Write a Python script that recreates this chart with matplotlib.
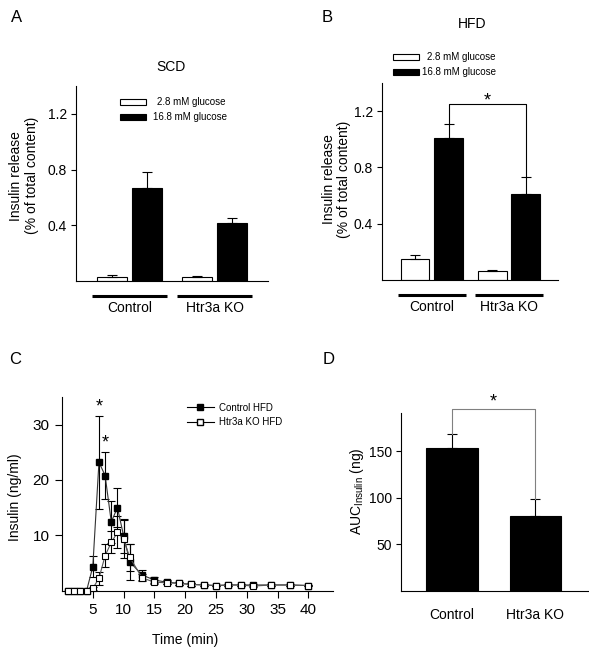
import matplotlib
matplotlib.use('Agg')
import matplotlib.pyplot as plt
from matplotlib.patches import Rectangle
from matplotlib.lines import Line2D
import matplotlib.transforms as mtransforms
import numpy as np

plt.rcParams['font.family'] = ['Liberation Sans', 'DejaVu Sans']
plt.rcParams['mathtext.fontset'] = 'custom'
plt.rcParams['mathtext.rm'] = 'Liberation Sans'
plt.rcParams['axes.linewidth'] = 0.8

# data
groups = ['Control', 'Htr3a KO']
scd_low = [0.03, 0.03]
scd_low_err = [0.015, 0.008]
scd_high = [0.67, 0.42]
scd_high_err = [0.11, 0.03]
hfd_low = [0.15, 0.065]
hfd_low_err = [0.03, 0.006]
hfd_high = [1.01, 0.61]
hfd_high_err = [0.10, 0.12]

time = [1, 2, 3, 4, 5, 6, 7, 8, 9, 10, 11, 13, 15, 17, 19, 21, 23, 25, 27, 29, 31, 34, 37, 40]
ctrl = [0, 0, 0, 0, 4.3, 23.2, 20.8, 12.4, 15.0, 9.9, 5.2, 2.8, 1.9, 1.5, 1.3, 1.1, 1.0, 0.9, 1.0, 1.0, 1.0, 1.0, 1.0, 0.9]
ctrl_err = [0, 0, 0, 0, 1.9, 8.4, 4.3, 3.8, 3.6, 3.1, 3.3, 0.9, 0.5, 0.4, 0.3, 0.2, 0.2, 0.1, 0.2, 0.2, 0.2, 0.2, 0.2, 0.1]
ko = [0, 0, 0, 0, 0.4, 2.2, 6.3, 8.7, 10.5, 9.3, 6.0, 2.3, 1.5, 1.4, 1.3, 1.1, 1.0, 0.9, 1.0, 1.0, 0.8, 1.0, 1.0, 0.9]
ko_err = [0, 0, 0, 0, 0.3, 1.2, 2.1, 2.0, 2.9, 3.5, 2.4, 0.6, 0.4, 0.3, 0.3, 0.2, 0.2, 0.1, 0.2, 0.2, 0.2, 0.2, 0.2, 0.1]

auc = [153, 80]
auc_err = [16, 19]

W, H = 589, 648
fig = plt.figure(figsize=(W / 100, H / 100), dpi=100)


def fx(x):
    return x / W


def fy(y):
    return 1 - y / H


def axes_px(l, t, r, b):
    return fig.add_axes([fx(l), fy(b), (r - l) / W, (b - t) / H])


def style(ax, size=10):
    ax.spines['top'].set_visible(False)
    ax.spines['right'].set_visible(False)
    ax.tick_params(direction='out', length=3.5, width=0.8, labelsize=size, pad=3)


def bar_panel(ax, low, low_err, high, high_err, width, off, xl):
    x = np.arange(len(groups))
    ax.bar(x - off, low, width, color='white', edgecolor='black', linewidth=0.8)
    ax.errorbar(x - off, low, yerr=[np.zeros(2), low_err], fmt='none', ecolor='black',
                elinewidth=0.8, capsize=3.5, capthick=0.8)
    ax.bar(x + off, high, width, color='black', edgecolor='black', linewidth=0.8)
    ax.errorbar(x + off, high, yerr=[np.zeros(2), high_err], fmt='none', ecolor='black',
                elinewidth=0.8, capsize=3.5, capthick=0.8)
    ax.set_xlim(xl)
    ax.set_ylim(0, 1.4)
    ax.set_yticks([0.4, 0.8, 1.2])
    ax.set_xticks([])
    style(ax)
    tr = mtransforms.blended_transform_factory(ax.transData, ax.transAxes)
    for i, g in enumerate(groups):
        ax.plot([i - 0.44, i + 0.44], [-0.077, -0.077], color='black', lw=2.2,
                transform=tr, clip_on=False, solid_capstyle='butt')
        ax.text(i, -0.137, g, transform=tr, ha='center', va='center', fontsize=10)
    ax.set_ylabel('Insulin release\n(% of total content)', fontsize=10, linespacing=1.15)


def legend_px(x_rect, y1, y2, x_t1, x_t2):
    fig.add_artist(Rectangle((fx(x_rect), fy(y1 + 3)), 26 / W, 6 / H, transform=fig.transFigure,
                             facecolor='white', edgecolor='black', linewidth=0.8))
    fig.add_artist(Rectangle((fx(x_rect), fy(y2 + 3)), 26 / W, 6 / H, transform=fig.transFigure,
                             facecolor='black', edgecolor='black', linewidth=0.8))
    fig.text(fx(x_t1), fy(y1), '2.8 mM glucose', fontsize=7, va='center')
    fig.text(fx(x_t2), fy(y2), '16.8 mM glucose', fontsize=7, va='center')


# A
axA = axes_px(76, 86, 268, 281)
bar_panel(axA, scd_low, scd_low_err, scd_high, scd_high_err, 0.353, 0.206, (-0.632, 1.627))
axA.yaxis.set_label_coords(-0.195, 0.54)
fig.text(fx(171), fy(67), 'SCD', fontsize=10, ha='center', va='center')
legend_px(120, 102, 117, 157, 153)

# B
axB = axes_px(382, 83, 558, 280)
bar_panel(axB, hfd_low, hfd_low_err, hfd_high, hfd_high_err, 0.37, 0.217, (-0.644, 1.634))
axB.yaxis.set_label_coords(-0.175, 0.51)
fig.text(fx(472), fy(24), 'HFD', fontsize=10, ha='center', va='center')
legend_px(393, 57, 72, 427, 422)
xs = [0.217, 1.217]
axB.plot([xs[0], xs[0], xs[1], xs[1]],
         [hfd_high[0] + hfd_high_err[0], 1.25, 1.25, hfd_high[1] + hfd_high_err[1]],
         color='black', lw=0.8, clip_on=False)
axB.text(0.717, 1.27, '*', ha='center', va='center', fontsize=13)

# C
axC = axes_px(62, 397, 333, 590.5)
axC.errorbar(time, ctrl, yerr=ctrl_err, fmt='none', ecolor='black', elinewidth=0.8,
             capsize=3, capthick=0.8, zorder=2)
axC.errorbar(time, ko, yerr=ko_err, fmt='none', ecolor='black', elinewidth=0.8,
             capsize=3, capthick=0.8, zorder=2)
axC.plot(time, ctrl, color='#333333', lw=0.8, marker='s', ms=4.5, mfc='black', mec='black',
         zorder=3, clip_on=False)
axC.plot(time, ko, color='#555555', lw=0.8, marker='s', ms=4.5, mfc='white', mec='black',
         mew=0.8, zorder=4, clip_on=False)
axC.set_xlim(0, 44)
axC.set_ylim(0, 35)
axC.set_xticks([5, 10, 15, 20, 25, 30, 35, 40])
axC.set_yticks([10, 20, 30])
style(axC, 11)
axC.tick_params(axis='x', length=5, pad=4)
axC.tick_params(axis='y', length=5, pad=4)
axC.set_xlabel('Time (min)', fontsize=10)
axC.xaxis.set_label_coords(0.455, -0.22)
axC.set_ylabel('Insulin (ng/ml)', fontsize=10)
axC.yaxis.set_label_coords(-0.147, 0.48)
axC.text(6, 33.2, '*', ha='center', va='center', fontsize=13)
axC.text(7, 26.6, '*', ha='center', va='center', fontsize=13)
leg_h = [Line2D([0], [0], color='black', lw=0.8, marker='s', ms=4, mfc='black', mec='black'),
         Line2D([0], [0], color='black', lw=0.8, marker='s', ms=4, mfc='white', mec='black')]
axC.legend(leg_h, ['Control HFD', 'Htr3a KO HFD'], loc='upper left', bbox_to_anchor=(0.43, 1.016),
           frameon=False, fontsize=7, handlelength=2.7, handletextpad=0.6, labelspacing=0.45)

# D
axD = axes_px(401, 413, 588, 591)
xd = np.arange(len(groups))
axD.bar(xd, auc, 0.62, color='black', edgecolor='black', linewidth=0.8)
axD.errorbar(xd, auc, yerr=[np.zeros(2), auc_err], fmt='none', ecolor='black', elinewidth=0.8,
             capsize=3.5, capthick=0.8)
axD.set_xlim(-0.61, 1.63)
axD.set_ylim(0, 191)
axD.set_yticks([50, 100, 150])
axD.set_xticks(xd)
axD.set_xticklabels(groups)
style(axD)
axD.tick_params(axis='x', length=0, pad=12)
axD.set_ylabel('AUC$_{\\mathrm{Insulin}}$ (ng)', fontsize=10)
axD.yaxis.set_label_coords(-0.188, 0.56)
axD.plot([0, 0, 1, 1], [auc[0] + auc_err[0], 195, 195, auc[1] + auc_err[1]],
         color='#808080', lw=0.8, clip_on=False)
axD.text(0.5, 203, '*', ha='center', va='center', fontsize=13)

# panel letters
for lab, x, y in [('A', 17, 17), ('B', 327, 17), ('C', 15, 359), ('D', 329, 359)]:
    fig.text(fx(x), fy(y), lab, fontsize=12, ha='center', va='center')

fig.savefig('out.png', dpi=100)
